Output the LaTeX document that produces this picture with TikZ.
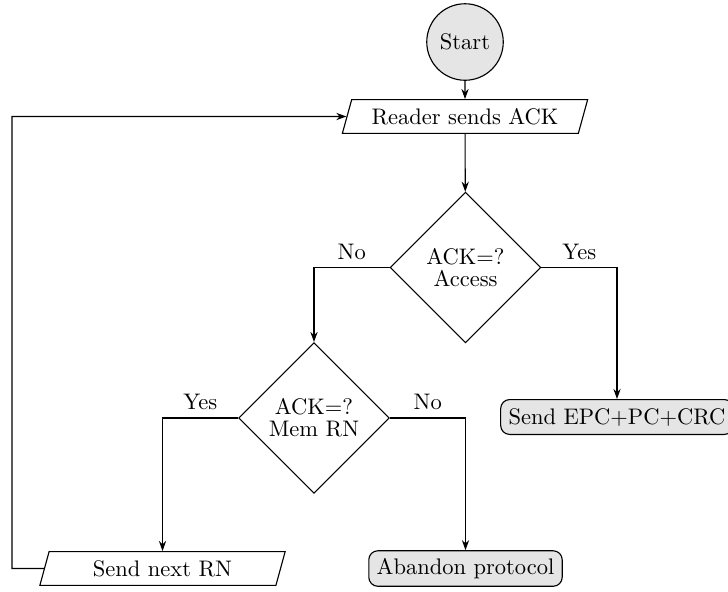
\documentclass[tikz,border=0pt]{standalone}
\usetikzlibrary{shapes.geometric,arrows.meta}
\begin{document}
\begin{tikzpicture}[x=0.4444pt,y=-0.4444pt,
  line width=0.5pt,
  flow/.style={-{Stealth[length=4.5pt,width=3.2pt]}},
  startnode/.style={circle,draw,fill=gray!20,minimum size=34pt,inner sep=0pt},
  iobox/.style={trapezium,trapezium left angle=70,trapezium right angle=110,
    trapezium stretches body,draw,minimum width=109pt,minimum height=15pt,inner sep=2pt},
  decision/.style={diamond,draw,minimum size=67pt,inner sep=0pt,align=center,aspect=1},
  endbox/.style={rectangle,rounded corners=4pt,draw,fill=gray!20,minimum height=15.5pt,inner xsep=3.5pt},
  branch/.style={above}
]
\useasboundingbox (0,0) rectangle (728,591);

% nodes
\node[startnode] (start) at (465,42) {Start};
\node[iobox] (ack) at (465,116.5) {Reader sends ACK};
\node[decision] (acc) at (465.5,267.5) {ACK=?\\[-2.2pt]Access};
\node[decision] (mem) at (314,418) {ACK=?\\[-2.2pt]Mem RN};
\node[endbox] (epc) at (617,417) {Send EPC+PC+CRC};
\node[iobox] (next) at (162.5,568.5) {Send next RN};
\node[endbox] (aband) at (465.5,568.5) {Abandon protocol};
\coordinate (loop) at (12,568.5);

% connectors
\draw[flow] (start) -- (ack);
\draw[flow] (ack) -- (acc);
\draw[flow] (acc.west) -| node[pos=0.25,branch]{No} (mem.north);
\draw[flow] (acc.east) -| node[pos=0.25,branch]{Yes} (epc.north);
\draw[flow] (mem.west) -| node[pos=0.25,branch]{Yes} (next.north);
\draw[flow] (mem.east) -| node[pos=0.25,branch]{No} (aband.north);
\draw[flow] (next.west) -- (loop) |- (ack.west);
\end{tikzpicture}
\end{document}
